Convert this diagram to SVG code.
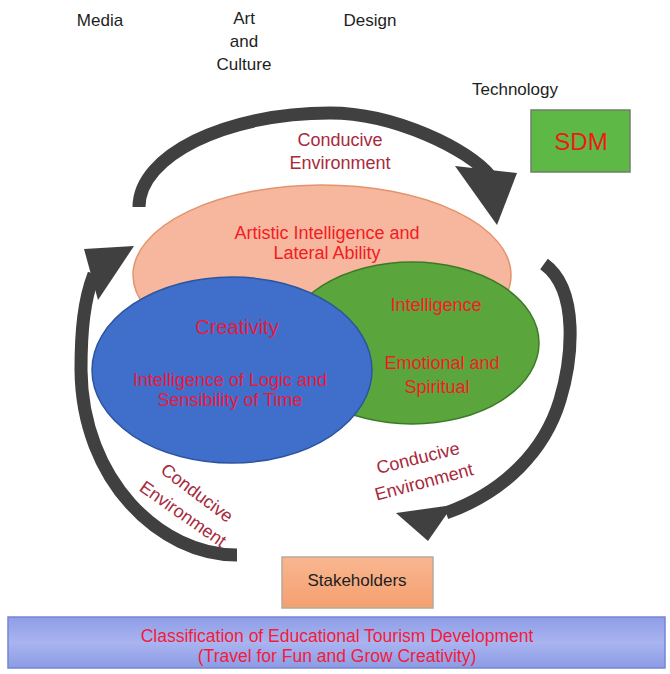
<svg xmlns="http://www.w3.org/2000/svg" width="670" height="674" viewBox="0 0 670 674">
<defs>
<style>
text{font-family:"Liberation Sans",Arial,sans-serif;text-anchor:middle}
.lbl{font-size:17px;fill:#1e1e1e}
.red{font-size:18px;fill:#f21c24}
.redb{font-size:18px;fill:#e81a3e}
.ce{font-size:18px;fill:#a82a3c}
.shaft{fill:none;stroke:#404040;stroke-width:13;stroke-linecap:butt}
.head{fill:#404040}
</style>
<linearGradient id="bannerG" x1="0" y1="0" x2="0" y2="1">
<stop offset="0" stop-color="#8e9de6"/>
<stop offset="0.5" stop-color="#a9b4f0"/>
<stop offset="1" stop-color="#8c9be4"/>
</linearGradient>
<linearGradient id="stakeG" x1="0" y1="0" x2="0" y2="1">
<stop offset="0" stop-color="#f9b690"/>
<stop offset="1" stop-color="#f4a070"/>
</linearGradient>
</defs>
<rect width="670" height="674" fill="#ffffff"/>

<g id="media"><text class="lbl" x="100" y="26">Media</text></g>
<g id="art-culture"><text class="lbl" x="244" y="24">Art</text><text class="lbl" x="244" y="47">and</text><text class="lbl" x="244" y="70">Culture</text></g>
<g id="design"><text class="lbl" x="370" y="26">Design</text></g>
<g id="technology"><text class="lbl" x="515" y="95">Technology</text></g>

<g id="sdm">
<rect x="531" y="110" width="99" height="62" fill="#5db846" stroke="#6f7f68" stroke-width="1.5"/>
<text x="581" y="150" style="font-size:24px;fill:#f01818">SDM</text>
</g>

<g id="connectors">
<path class="shaft" d="M139,207 C139,156 225,113 330,113 C395,113 470,150 490,176"/>
<polygon class="head" points="455,166 517,173 497,225"/>
<path class="shaft" d="M544,264 C580,290 572,360 560,400 C545,450 505,492 446,513"/>
<polygon class="head" points="396,513 453,505 428,541"/>
<path class="shaft" d="M237,555 C160,555 82,480 81,370 C81,330 84,300 94,274"/>
<polygon class="head" points="84,249 134,246 98,300"/>
</g>

<g id="labels-ce">
<text class="ce" x="340" y="146">Conducive</text>
<text class="ce" x="340" y="169">Environment</text>
<text class="ce" transform="translate(418,458) rotate(-14)" y="6">Conducive</text>
<text class="ce" transform="translate(424,482) rotate(-15)" y="6">Environment</text>
<text class="ce" transform="translate(197,493) rotate(37)" y="6">Conducive</text>
<text class="ce" transform="translate(183,514) rotate(35)" y="6">Environment</text>
</g>

<g id="artistic">
<ellipse cx="322" cy="275" rx="189" ry="90" fill="#f6b79e" stroke="#e4946c" stroke-width="1.5"/>
<text class="red" x="327" y="239">Artistic Intelligence and</text>
<text class="red" x="327" y="259">Lateral Ability</text>
</g>

<g id="emotional">
<ellipse cx="412" cy="343" rx="127" ry="81" fill="#5aa63c" stroke="#3c7a28" stroke-width="1.5"/>
<text class="red" x="436" y="311">Intelligence</text>
<text class="red" x="442" y="369">Emotional and</text>
<text class="red" x="437" y="393">Spiritual</text>
</g>

<g id="creativity">
<ellipse cx="232" cy="370" rx="140" ry="93" fill="#3f6ecb" stroke="#2d559e" stroke-width="1.5"/>
<text class="redb" x="237" y="334" style="font-size:20px">Creativity</text>
<text class="redb" x="230" y="386">Intelligence of Logic and</text>
<text class="redb" x="230" y="406">Sensibility of Time</text>
</g>

<g id="stakeholders">
<rect x="282" y="557" width="151" height="51" fill="url(#stakeG)" stroke="#b9a89a" stroke-width="1.5"/>
<text x="357" y="586" style="font-size:17px;fill:#1e1e1e">Stakeholders</text>
</g>

<g id="banner">
<rect x="8" y="617" width="657" height="51" fill="url(#bannerG)" stroke="#7585d6" stroke-width="1.5"/>
<text x="337" y="642" style="font-size:17.5px;fill:#f21c3c">Classification of Educational Tourism Development</text>
<text x="337" y="662" style="font-size:17.5px;fill:#f21c3c">(Travel for Fun and Grow Creativity)</text>
</g>
</svg>
